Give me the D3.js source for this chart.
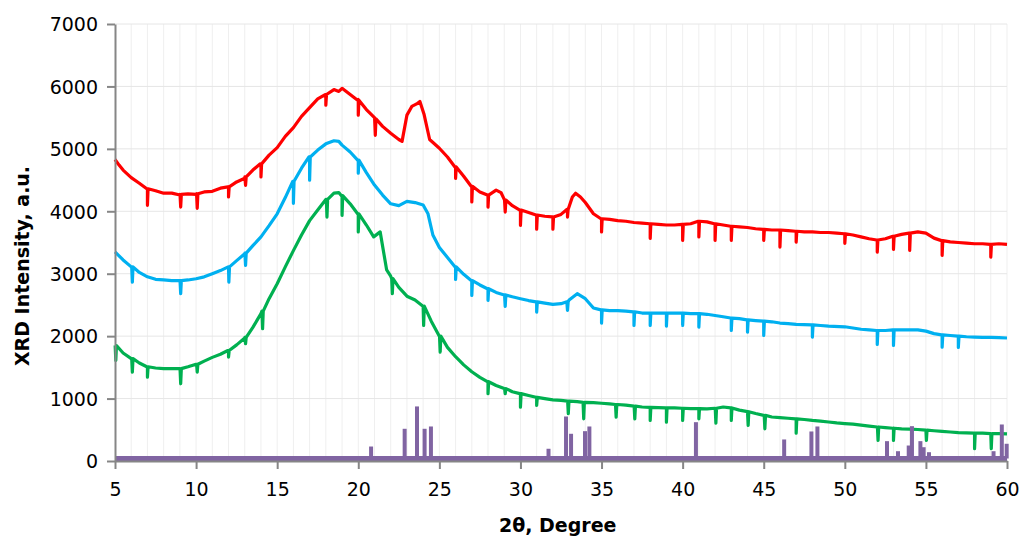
<!DOCTYPE html>
<html>
<head>
<meta charset="utf-8">
<script src="https://cdnjs.cloudflare.com/ajax/libs/d3/7.8.5/d3.min.js"></script>
<style>
  body { margin: 0; background: #fff; }
  .tick text { font-family: "DejaVu Sans", sans-serif; font-size: 19px; fill: #000; }
</style>
</head>
<body>
<div id="viz"></div>
<script>
// 2theta / intensity pairs
var redData = [[5,4830],[5.25,4740],[5.5,4660],[5.75,4600],[6,4540],[6.5,4450],[7,4360],[7.5,4330],[8,4290],[8.5,4290],[9,4260],[9.5,4280],[10,4270],[10.5,4310],[11,4320],[11.5,4370],[12,4390],[12.5,4470],[13,4530],[13.5,4660],[14,4750],[14.5,4900],[15,5020],[15.5,5200],[16,5340],[16.5,5520],[17,5660],[17.5,5800],[18,5870],[18.5,5950],[18.8,5920],[19,5970],[19.5,5870],[20,5790],[20.5,5630],[21,5500],[21.5,5360],[22,5250],[22.5,5150],[22.7,5120],[23,5540],[23.3,5680],[23.6,5720],[23.8,5760],[24.05,5560],[24.4,5150],[25,5010],[25.5,4870],[26,4710],[26.5,4560],[27,4400],[27.5,4310],[28,4250],[28.5,4340],[28.8,4300],[29,4190],[29.5,4090],[30,4020],[30.5,3980],[31,3940],[31.5,3920],[32,3910],[32.5,3950],[32.9,4020],[33.2,4230],[33.4,4290],[33.7,4230],[34,4140],[34.5,3960],[35,3880],[35.5,3870],[36,3850],[36.5,3840],[37,3820],[37.5,3810],[38,3800],[38.5,3790],[39,3780],[39.5,3780],[40,3790],[40.5,3800],[41,3840],[41.5,3830],[42,3800],[42.5,3780],[43,3760],[43.5,3750],[44,3740],[44.5,3720],[45,3710],[45.5,3700],[46,3700],[46.5,3690],[47,3680],[47.5,3670],[48,3670],[48.5,3660],[49,3660],[49.5,3650],[50,3640],[50.5,3620],[51,3590],[51.5,3560],[52,3540],[52.5,3560],[53,3600],[53.5,3630],[54,3650],[54.5,3670],[55,3650],[55.5,3570],[56,3530],[56.5,3510],[57,3500],[57.5,3490],[58,3480],[58.5,3480],[59,3470],[59.5,3480],[60,3470]];

var blueData = [[5,3350],[5.5,3220],[6,3110],[6.5,3020],[7,2950],[7.5,2910],[8,2900],[8.5,2890],[9,2890],[9.5,2900],[10,2920],[10.5,2950],[11,3000],[11.5,3050],[12,3110],[12.5,3210],[13,3320],[13.5,3450],[14,3590],[14.5,3770],[15,3960],[15.5,4220],[16,4480],[16.5,4690],[17,4870],[17.5,4980],[18,5080],[18.5,5130],[18.8,5120],[19,5060],[19.5,4950],[20,4820],[20.5,4620],[21,4420],[21.5,4260],[22,4120],[22.5,4090],[23,4160],[23.5,4140],[24,4100],[24.3,3960],[24.6,3620],[25,3420],[25.5,3260],[26,3110],[26.5,2990],[27,2890],[27.5,2820],[28,2760],[28.5,2700],[29,2660],[29.5,2630],[30,2600],[30.5,2570],[31,2550],[31.5,2530],[32,2510],[32.5,2520],[33,2580],[33.5,2680],[34,2600],[34.5,2450],[35,2420],[35.5,2410],[36,2410],[36.5,2400],[37,2390],[37.5,2370],[38,2370],[39,2370],[40,2370],[40.5,2360],[41,2360],[41.5,2350],[42,2330],[42.5,2310],[43,2290],[43.5,2280],[44,2260],[44.5,2250],[45,2240],[45.5,2230],[46,2210],[46.5,2200],[47,2190],[48,2180],[48.5,2170],[49,2160],[50,2150],[50.5,2130],[51,2110],[51.5,2100],[52,2090],[52.5,2090],[53,2100],[54,2100],[54.5,2100],[55,2080],[55.5,2040],[56,2020],[56.5,2010],[57,2000],[57.5,1990],[58,1985],[58.5,1980],[59,1980],[59.5,1975],[60,1970]];

var greenData = [[5,1850],[5.5,1730],[6,1640],[6.5,1570],[7,1510],[7.5,1490],[8,1480],[8.5,1480],[9,1480],[9.5,1510],[10,1550],[10.5,1600],[11,1660],[11.5,1710],[12,1770],[12.5,1860],[13,1970],[13.5,2140],[14,2360],[14.5,2600],[15,2840],[15.5,3110],[16,3370],[16.5,3620],[17,3850],[17.5,4020],[18,4190],[18.5,4290],[18.8,4300],[19,4250],[19.5,4120],[20,3960],[20.5,3780],[20.95,3590],[21.35,3670],[21.75,3060],[22,2960],[22.5,2780],[23,2640],[23.5,2580],[24,2480],[24.5,2240],[25,2000],[25.5,1820],[26,1670],[26.5,1540],[27,1430],[27.5,1340],[28,1270],[28.5,1210],[29,1160],[29.5,1110],[30,1080],[30.5,1050],[31,1020],[31.5,1000],[32,980],[32.5,970],[33,960],[33.5,950],[34,940],[34.5,935],[35,925],[35.5,915],[36,905],[36.5,895],[37,880],[37.5,865],[38,860],[38.5,855],[39,850],[39.5,850],[40,845],[40.5,840],[41,840],[41.5,835],[42,845],[42.5,865],[43,850],[43.5,815],[44,790],[44.5,760],[45,730],[45.5,705],[46,695],[46.5,685],[47,675],[47.5,665],[48,650],[48.5,640],[49,625],[49.5,610],[50,600],[50.5,590],[51,575],[51.5,560],[52,545],[52.5,535],[53,525],[53.5,515],[54,510],[54.5,505],[55,495],[55.5,485],[56,475],[56.5,465],[57,455],[57.5,450],[58,445],[58.5,445],[59,440],[59.5,440],[60,435]];

// downward noise spikes: [2theta, level on the curve, bottom of the spike]
var redSpikes = [[7,4360,4096],[9.05,4270,4068],[10.07,4280,4048],[12,4390,4229],[13.05,4550,4416],[14,4760,4549],[18,5870,5699],[20,5780,5538],[21.05,5480,5217],[26,4710,4528],[27,4400,4149],[28,4260,4068],[29.06,4180,3988],[30,4020,3775],[31,3940,3712],[32,3910,3712],[32.9,4030,3908],[35,3880,3668],[38,3800,3567],[40,3790,3535],[41,3840,3588],[42,3800,3535],[43,3760,3535],[45,3710,3535],[46,3700,3427],[47,3680,3507],[50,3640,3487],[52,3540,3347],[53,3600,3390],[54,3650,3374],[56,3530,3294],[59,3470,3267]];
var blueSpikes = [[6.07,3110,2866],[9.05,2890,2680],[12.02,3110,2866],[13.05,3330,3134],[16,4480,4128],[17,4870,4497],[20,4820,4609],[26,3110,2909],[27,2890,2653],[28,2760,2573],[29.06,2660,2477],[31,2550,2385],[32.9,2550,2412],[35,2420,2209],[37,2390,2172],[38,2370,2172],[39,2370,2161],[40,2370,2172],[41,2360,2145],[43,2290,2092],[44,2260,2065],[45,2240,2012],[48,2180,1985],[52,2090,1868],[53,2100,1852],[56,2020,1824],[57,2000,1820]];
var greenSpikes = [[5.05,1850,1611],[6.07,1640,1424],[7,1510,1343],[9.05,1480,1237],[10.07,1550,1424],[12,1770,1664],[13.05,1980,1878],[14.1,2400,2119],[18.07,4190,3908],[19,4250,3935],[20,3960,3668],[22.1,2920,2680],[24.03,2480,2172],[25.05,2000,1744],[28,1270,1077],[29.06,1160,1077],[30,1080,862],[31,1020,890],[32.95,960,757],[33.9,940,676],[35.9,905,702],[37.05,880,676],[38,860,649],[39,850,622],[40,845,649],[41,840,676],[42.05,845,606],[43,850,649],[44.04,790,569],[45.07,730,516],[47,675,446],[52.05,545,329],[53,525,329],[55.03,495,329],[58,445,196],[59.03,440,196]];

// reference pattern sticks: [2theta, intensity]
var sticks = [[20.79,232],[22.86,516],[23.62,874],[24.09,516],[24.48,553],[31.73,196],[32.81,713],[33.12,436],[33.98,478],[34.25,553],[40.82,622],[46.26,345],[47.94,473],[48.31,553],[52.6,318],[53.28,157],[53.94,248],[54.14,558],[54.66,318],[54.86,221],[55.19,141],[59.17,157],[59.68,585],[59.98,276]];
var stickBaseline = 40;

var xTicks = [5,10,15,20,25,30,35,40,45,50,55,60];
var yTicks = [0,1000,2000,3000,4000,5000,6000,7000];

var margin = { top: 24, right: 16, bottom: 75, left: 115 },
    width = 1024 - margin.left - margin.right,
    height = 536 - margin.top - margin.bottom;

var svg = d3.select('#viz').append('svg')
    .attr('width', 1024)
    .attr('height', 536);

var x = d3.scaleLinear().domain([5, 60]).range([0, width - 1]);
var y = d3.scaleLinear().domain([0, 7000]).range([height, 0]);

var g = svg.append('g')
    .attr('transform', 'translate(' + margin.left + ',' + margin.top + ')');

// minor vertical gridlines every degree
g.append('g')
    .selectAll('line')
    .data(d3.range(6, 61))
    .enter().append('line')
    .attr('x1', d => x(d)).attr('x2', d => x(d))
    .attr('y1', 0).attr('y2', height)
    .attr('stroke', '#efefef').attr('stroke-width', 1);

// horizontal gridlines
g.append('g')
    .selectAll('line')
    .data(yTicks.slice(1))
    .enter().append('line')
    .attr('x1', 0).attr('x2', x(60))
    .attr('y1', d => y(d)).attr('y2', d => y(d))
    .attr('stroke', '#e6e6e6').attr('stroke-width', 1);

var line = d3.line()
    .x(d => x(d[0]))
    .y(d => y(d[1]));

// put each spike into its trace: curve level, drop, curve level
function withSpikes(data, spikes) {
    var pts = data.slice();
    spikes.forEach(function(s) {
        pts.push([s[0] - 0.04, s[1]], [s[0], s[2]], [s[0] + 0.04, s[1]]);
    });
    return pts.sort((a, b) => a[0] - b[0]);
}

var series = [
    { data: redData, spikes: redSpikes, color: '#ff0000' },
    { data: blueData, spikes: blueSpikes, color: '#00b0f0' },
    { data: greenData, spikes: greenSpikes, color: '#00b050' }
];

series.forEach(function(s) {
    g.append('path')
        .datum(withSpikes(s.data, s.spikes))
        .attr('fill', 'none')
        .attr('stroke', s.color)
        .attr('stroke-width', 3.2)
        .attr('stroke-linejoin', 'round')
        .attr('d', line);
});

// reference pattern
var purple = '#8064a2';
g.append('g')
    .selectAll('line')
    .data(sticks)
    .enter().append('line')
    .attr('x1', d => x(d[0])).attr('x2', d => x(d[0]))
    .attr('y1', y(stickBaseline)).attr('y2', d => y(d[1]))
    .attr('stroke', purple)
    .attr('stroke-width', 4);
g.append('line')
    .attr('x1', x(5)).attr('x2', x(60))
    .attr('y1', y(stickBaseline)).attr('y2', y(stickBaseline))
    .attr('stroke', purple)
    .attr('stroke-width', 5);

// axes
var xAxis = g.append('g')
    .attr('transform', 'translate(0,' + height + ')')
    .call(d3.axisBottom(x).tickValues(xTicks).tickSize(8).tickPadding(14).tickSizeOuter(0));
var yAxis = g.append('g')
    .call(d3.axisLeft(y).tickValues(yTicks).tickFormat(d3.format('d')).tickSize(8).tickPadding(9).tickSizeOuter(0));

[xAxis, yAxis].forEach(function(a) {
    a.select('.domain').attr('stroke', '#868686').attr('stroke-width', 2);
    a.selectAll('.tick line').attr('stroke', '#868686').attr('stroke-width', 2);
});
yAxis.selectAll('.tick text').attr('dy', '0.36em');

svg.append('text')
    .attr('x', margin.left + x(32.3))
    .attr('y', 532)
    .attr('text-anchor', 'middle')
    .style('font-family', '"DejaVu Sans", sans-serif')
    .style('font-size', '19px')
    .style('font-weight', 'bold')
    .text('2θ, Degree');

svg.append('text')
    .attr('transform', 'translate(29,' + 266 + ') rotate(-90)')
    .attr('text-anchor', 'middle')
    .style('font-family', '"DejaVu Sans", sans-serif')
    .style('font-size', '19px')
    .style('font-weight', 'bold')
    .text('XRD Intensity, a.u.');
</script>
</body>
</html>
